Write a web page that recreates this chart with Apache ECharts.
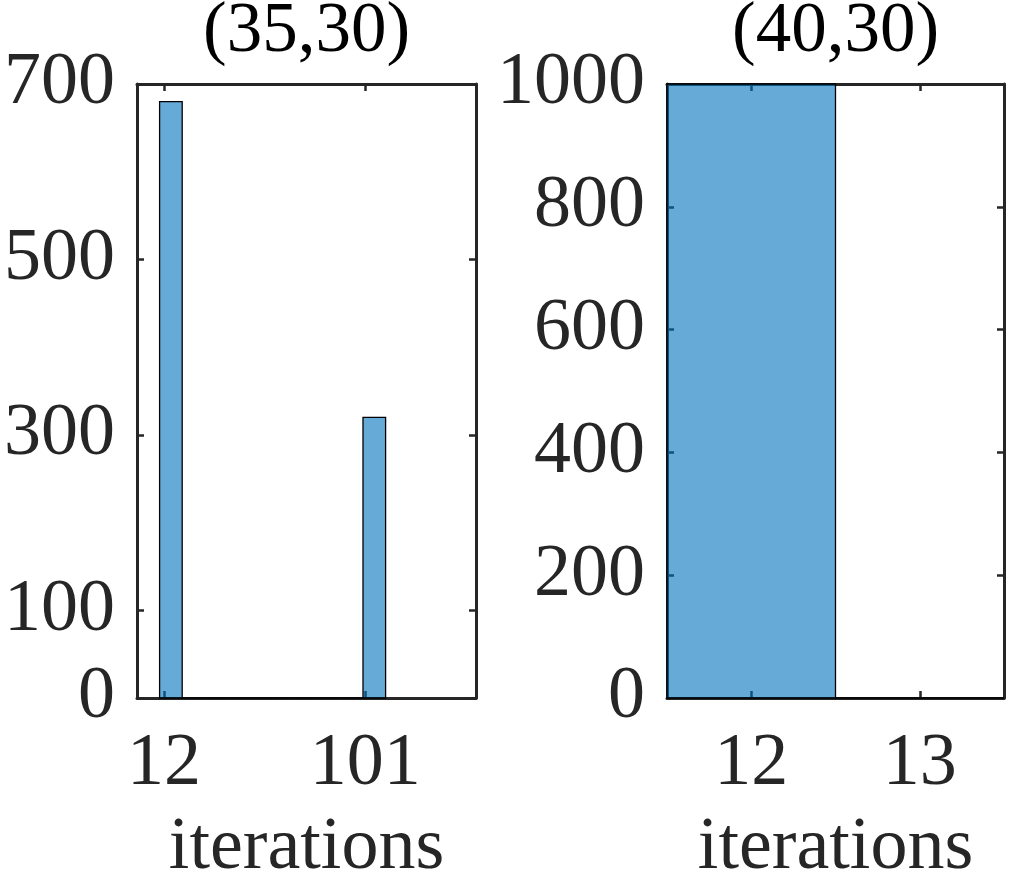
<!DOCTYPE html>
<html>
<head>
<meta charset="utf-8">
<script src="https://cdn.jsdelivr.net/npm/echarts@6/dist/echarts.min.js"></script>
<style>
html,body{margin:0;padding:0;background:#fff;}
#chart{width:1034px;height:872px;}
</style>
</head>
<body>
<div id="chart"></div>
<script>
// ---- data ----
const titles = ['(35,30)', '(40,30)'];
const xAxisName = 'iterations';
// left panel histogram
const leftBinStarts = [10, 20, 30, 40, 50, 60, 70, 80, 90, 100];
const leftBinEnds   = [20, 30, 40, 50, 60, 70, 80, 90, 100, 110];
const leftCounts    = [680, 0, 0, 0, 0, 0, 0, 0, 0, 320];
const leftXTicks = [12, 101];
const leftYTicks = [0, 100, 300, 500, 700];
// right panel histogram
const rightBinStarts = [11.5, 12.5];
const rightBinEnds   = [12.5, 13.5];
const rightCounts    = [1000, 0];
const rightXTicks = [12, 13];
const rightYTicks = [0, 200, 400, 600, 800, 1000];

const FONT = '"Liberation Serif", "Times New Roman", serif';
const INK = '#262626';
const BAR_FILL = 'rgba(0,114,189,0.6)';
const FS = 74;
const TITLE_FS = 71;

function buildData(starts, ends, counts) {
  return starts.map((s, i) => [s, ends[i], counts[i]]);
}

function renderHist(params, api) {
  const p0 = api.coord([api.value(0), api.value(2)]);
  const p1 = api.coord([api.value(1), 0]);
  return {
    type: 'rect',
    shape: { x: p0[0], y: p0[1], width: p1[0] - p0[0], height: p1[1] - p0[1] },
    style: { fill: BAR_FILL, stroke: '#000', lineWidth: 1.3 }
  };
}

const plain = v => String(v);

function xAxes(gridIndex, min, max, ticks, title) {
  const common = {
    type: 'value', gridIndex, min, max,
    splitLine: { show: false },
    axisLine: { show: true, onZero: false, lineStyle: { color: INK, width: 3 } },
    axisTick: { show: true, inside: true, length: 7, customValues: ticks, lineStyle: { color: INK, width: 2.5 } }
  };
  return [
    Object.assign({}, common, {
      position: 'bottom',
      axisLabel: { show: true, customValues: ticks, formatter: plain, margin: 30, color: INK, fontSize: FS, fontFamily: FONT },
      name: xAxisName, nameLocation: 'middle', nameGap: 114,
      nameTextStyle: { color: INK, fontSize: FS, fontFamily: FONT }
    }),
    Object.assign({}, common, {
      position: 'top',
      axisLabel: { show: false },
      name: title, nameLocation: 'middle', nameGap: 16,
      nameTextStyle: { color: '#000', fontSize: TITLE_FS, fontFamily: FONT, verticalAlign: 'bottom' }
    })
  ];
}

function yAxes(gridIndex, min, max, ticks) {
  const common = {
    type: 'value', gridIndex, min, max,
    splitLine: { show: false },
    axisLine: { show: true, onZero: false, lineStyle: { color: INK, width: 3 } },
    axisTick: { show: true, inside: true, length: 7, customValues: ticks, lineStyle: { color: INK, width: 2.5 } }
  };
  return [
    Object.assign({}, common, {
      position: 'left',
      axisLabel: { show: true, customValues: ticks, formatter: plain, margin: 22, color: INK, fontSize: FS, fontFamily: FONT }
    }),
    Object.assign({}, common, {
      position: 'right',
      axisLabel: { show: false }
    })
  ];
}

const chart = echarts.init(document.getElementById('chart'), null, { renderer: 'canvas' });
chart.setOption({
  backgroundColor: '#fff',
  animation: false,
  grid: [
    { left: 137, top: 84, width: 339, height: 614, containLabel: false, outerBoundsMode: 'none' },
    { left: 667, top: 84, width: 337, height: 614, containLabel: false, outerBoundsMode: 'none' }
  ],
  xAxis: [].concat(
    xAxes(0, 0, 150, leftXTicks, titles[0]),
    xAxes(1, 11.5, 13.5, rightXTicks, titles[1])
  ),
  yAxis: [].concat(
    yAxes(0, 0, 700, leftYTicks),
    yAxes(1, 0, 1000, rightYTicks)
  ),
  series: [
    {
      type: 'custom', xAxisIndex: 0, yAxisIndex: 0,
      renderItem: renderHist,
      encode: { x: [0, 1], y: 2 },
      data: buildData(leftBinStarts, leftBinEnds, leftCounts)
    },
    {
      type: 'custom', xAxisIndex: 2, yAxisIndex: 2,
      renderItem: renderHist,
      encode: { x: [0, 1], y: 2 },
      data: buildData(rightBinStarts, rightBinEnds, rightCounts)
    }
  ]
});
</script>
</body>
</html>
